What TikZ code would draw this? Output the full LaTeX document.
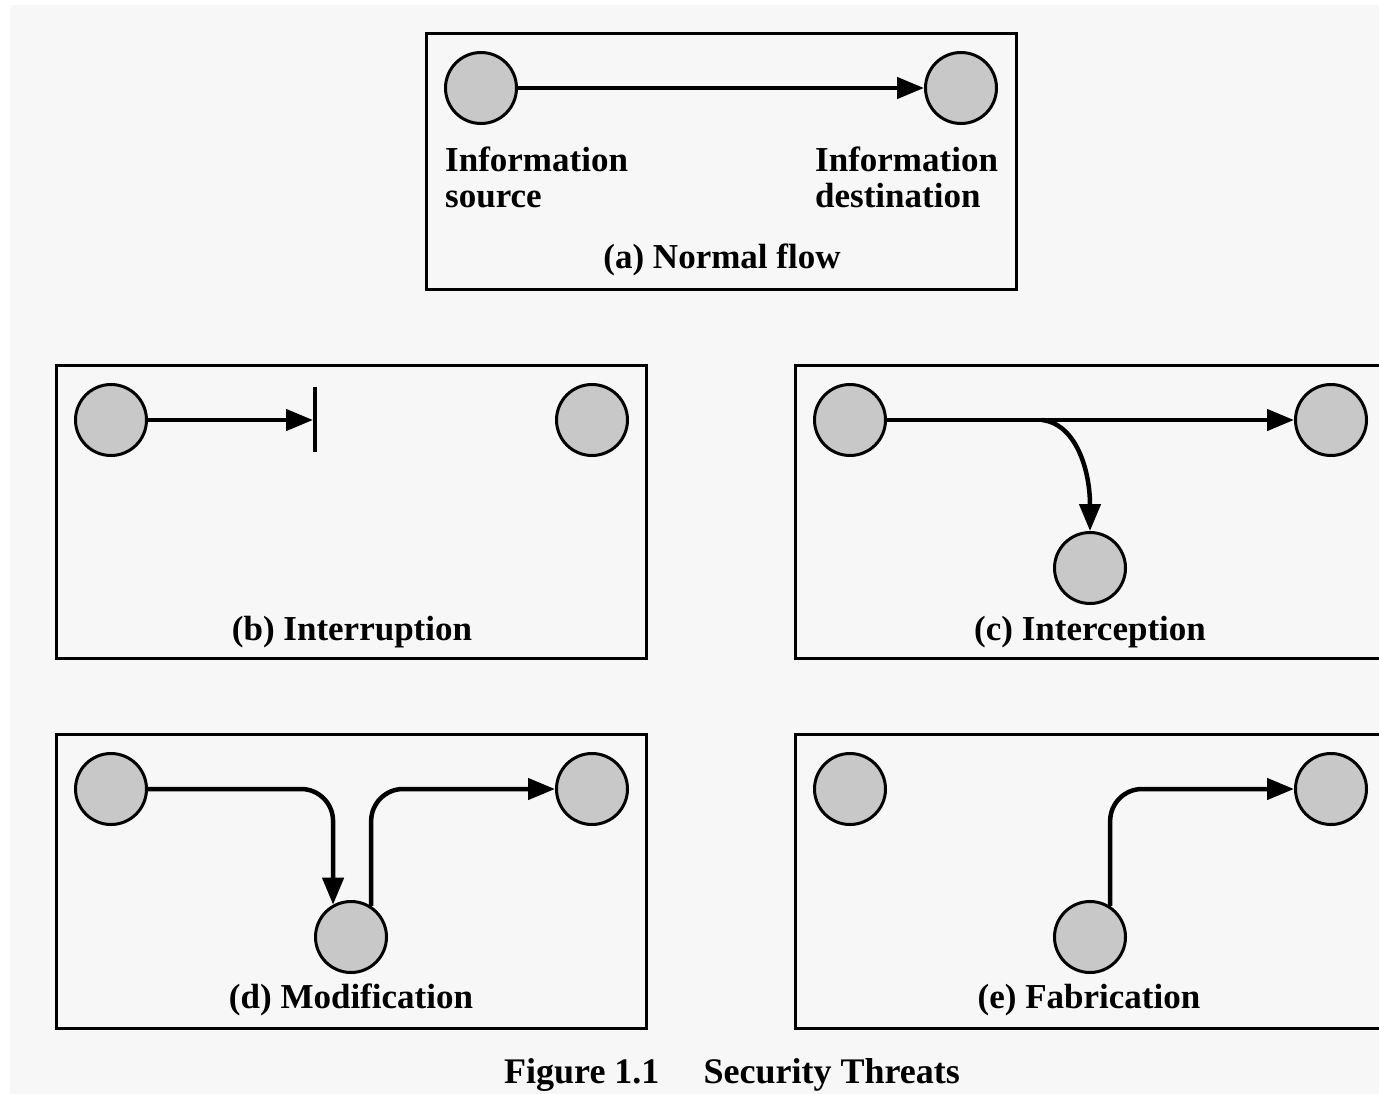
\documentclass[tikz,border=0pt]{standalone}
\usepackage{fontspec}
\setmainfont{Liberation Serif}
\usetikzlibrary{arrows.meta}
\definecolor{bg}{HTML}{F7F7F7}
\definecolor{hostfill}{HTML}{C8C8C8}
\tikzset{
  host/.style={circle, draw=black, line width=3pt, fill=hostfill, minimum size=71pt, inner sep=0pt},
  panel/.style={draw=black, line width=3pt},
  flow/.style={line width=4.5pt, -{Triangle[length=27pt,width=21pt]}},
  lbl/.style={inner sep=0pt, anchor=base, font=\fontsize{35}{40}\selectfont\bfseries},
  lblw/.style={inner sep=0pt, anchor=base west, font=\fontsize{35}{40}\selectfont\bfseries},
}
\begin{document}
\begin{tikzpicture}[x=1pt,y=-1pt]
\useasboundingbox (0,0) rectangle (1379,1093);
\fill[white] (0,0) rectangle (1379,1093);
\fill[bg] (10,5) rectangle (1400,1120);

% (a) Normal flow
\draw[panel] (426,33) rectangle (1016,289);
\node[host] (a1) at (481,88) {};
\node[host] (a2) at (961,88) {};
\draw[flow] (a1.east) -- (a2.west);
\node[lblw] (as1) at (445,171) {Information};
\node[lblw] (as2) at (445,207) {source};
\node[lblw] (ad1) at (815,171) {Information};
\node[lblw] (ad2) at (815,207) {destination};
\node[lbl] (acap) at (722,268) {(a) Normal flow};

% (b) Interruption
\draw[panel] (56,365) rectangle (646,658);
\node[host] (b1) at (111,420) {};
\node[host] (b2) at (592,420) {};
\coordinate (bstop) at (313,420);
\coordinate (btop) at (315,387);
\coordinate (bbot) at (315,452);
\draw[flow] (b1.east) -- (bstop);
\draw[line width=4.5pt] (btop) -- (bbot);
\node[lbl] (bcap) at (352,640) {(b) Interruption};

% (c) Interception
\draw[panel] (795,365) rectangle (1400,658);
\node[host] (c1) at (850,420) {};
\node[host] (c2) at (1331,420) {};
\node[host] (c3) at (1090,568) {};
\draw[flow] (c1.east) -- (c2.west);
\coordinate (cbr) at (1042,420);
\draw[flow] (cbr) .. controls (1076,424) and (1090,470) .. (c3.north);
\node[lbl] (ccap) at (1090,640) {(c) Interception};

% (d) Modification
\draw[panel] (56,734) rectangle (646,1028);
\node[host] (d1) at (111,789) {};
\node[host] (d2) at (592,789) {};
\node[host] (d3) at (351,937) {};
\draw[flow, rounded corners=32pt] (d1.east) -| (d3.119);
\draw[flow, rounded corners=32pt] (d3.57) |- (d2.west);
\node[lbl] (dcap) at (351,1008) {(d) Modification};

% (e) Fabrication
\draw[panel] (795,734) rectangle (1400,1028);
\node[host] (e1) at (850,789) {};
\node[host] (e2) at (1331,789) {};
\node[host] (e3) at (1090,937) {};
\draw[flow, rounded corners=32pt] (e3.57) |- (e2.west);
\node[lbl] (ecap) at (1089,1008) {(e) Fabrication};

% Figure caption
\node[inner sep=0pt, anchor=base, font=\fontsize{36}{40}\selectfont\bfseries] (fig) at (732,1083) {Figure 1.1\hspace{44pt}Security Threats};
\end{tikzpicture}
\end{document}
